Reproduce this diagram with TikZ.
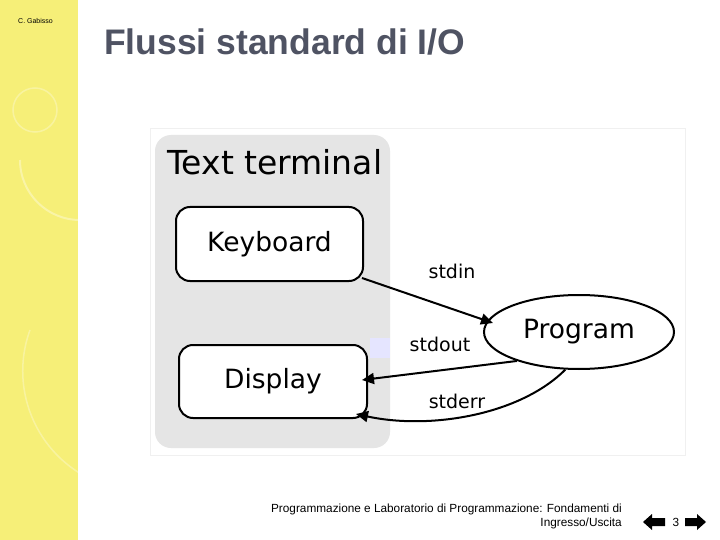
\documentclass[tikz,border=0pt]{standalone}
\usepackage{fontspec}
\setmainfont{Liberation Sans}
\newfontfamily\dv{DejaVu Sans}
\usetikzlibrary{arrows.meta,shapes.geometric}
\definecolor{strip}{HTML}{F6EF78}
\definecolor{titlec}{HTML}{4F5363}
\definecolor{termg}{HTML}{E5E5E5}
\tikzset{
  box/.style={draw=black,line width=2pt,rounded corners=14pt,fill=white},
  lab/.style={font=\dv\fontsize{19}{19}\selectfont,inner sep=0},
  conn/.style={line width=2pt,-{Triangle[length=12pt,width=11pt]}},
  foot/.style={font=\fontsize{11.8}{14}\selectfont,inner sep=0}
}
\begin{document}
\begin{tikzpicture}[x=1pt,y=-1pt]
\useasboundingbox (0,0) rectangle (720,540);
\fill[white] (0,0) rectangle (720,540);
\fill[strip] (0,0) rectangle (78,540);
\draw[white,opacity=0.35,line width=2pt] (20,160) arc[start angle=180,end angle=60,radius=60];
\draw[white,opacity=0.3,line width=1.5pt] (30,330) arc[start angle=200,end angle=80,radius=120];
\draw[white,opacity=0.3,line width=1.5pt] (35,110) circle[radius=22];
\node[font=\fontsize{7}{7}\selectfont,anchor=west,inner sep=0] (auth) at (18,21) {C. Gabisso};
\node[font=\bfseries\fontsize{35.5}{36}\selectfont,text=titlec,anchor=west,inner sep=0] (title) at (104,42) {Flussi standard di I/O};
% image
\draw[black!6] (150,128) rectangle (685,455);
\fill[termg,rounded corners=16pt] (155,135) rectangle (390,448);
\fill[blue!10] (370,338) rectangle (390,358);
\node[font=\dv\fontsize{33}{33}\selectfont,anchor=west,inner sep=0] (tt) at (167,162) {Text terminal};
\node[box,minimum width=187pt,minimum height=74pt,font=\dv\fontsize{26.5}{26.5}\selectfont] (kb) at (269.5,244) {Keyboard};
\node[box,minimum width=188pt,minimum height=73pt,font=\dv\fontsize{26.5}{26.5}\selectfont] (dp) at (273,381.5) {Display};
\node[draw=black,line width=2pt,ellipse,minimum width=190pt,minimum height=74pt,fill=white,font=\dv\fontsize{26.5}{26.5}\selectfont] (pr) at (579,332) {Program};
\node[lab] (sin) at (452,271) {stdin};
\node[lab] (sout) at (440,344) {stdout};
\node[lab] (serr) at (457,401) {stderr};
\coordinate (kbo) at (362,278);
\coordinate (pri) at (493,323);
\draw[conn] (kbo) -- (pri);
\draw[conn] (pr.205) -- (362,380);
\coordinate (dpe) at (356,414);
\draw[conn] (pr.250) .. controls (520,415) and (430,430) .. (dpe);
% footer
\node[foot,anchor=east,align=right] (ft) at (622,516) {Programmazione e Laboratorio di Programmazione: Fondamenti di\\Ingresso/Uscita};
\fill[black] (643,522) -- (652,514) -- (652,518) -- (665,518) -- (665,526) -- (652,526) -- (652,530) -- cycle;
\node[foot] (pg) at (676,522) {3};
\fill[black] (706,522) -- (697,514) -- (697,518) -- (685,518) -- (685,526) -- (697,526) -- (697,530) -- cycle;
\end{tikzpicture}
\end{document}
